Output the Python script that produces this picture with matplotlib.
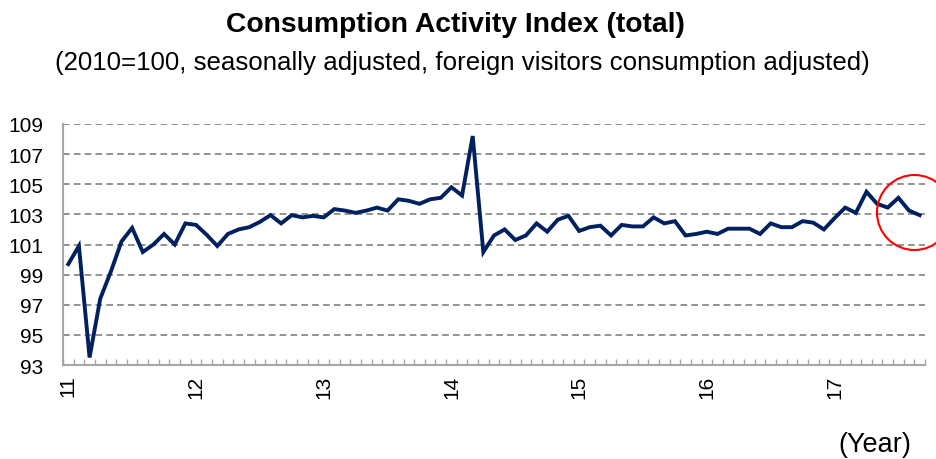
import matplotlib
matplotlib.use('Agg')
import matplotlib.pyplot as plt
import numpy as np

# Consumption Activity Index (total), monthly, Jan 2011 - Sep 2017
index_values = [
    99.7, 100.9, 93.5, 97.4, 99.2, 101.2, 102.1, 100.5, 101.0, 101.7, 101.0, 102.4,   # 2011
    102.3, 101.65, 100.9, 101.7, 102.0, 102.15, 102.5, 102.95, 102.4, 102.95, 102.8, 102.9,  # 2012
    102.8, 103.35, 103.25, 103.1, 103.25, 103.45, 103.25, 104.0, 103.9, 103.7, 104.0, 104.1,  # 2013
    104.8, 104.25, 108.2, 100.5, 101.6, 102.0, 101.3, 101.6, 102.4, 101.85, 102.65, 102.9,  # 2014
    101.9, 102.15, 102.25, 101.6, 102.3, 102.2, 102.2, 102.8, 102.4, 102.55, 101.6, 101.7,  # 2015
    101.85, 101.7, 102.05, 102.05, 102.05, 101.7, 102.4, 102.15, 102.15, 102.55, 102.45, 102.0,  # 2016
    102.75, 103.45, 103.1, 104.5, 103.7, 103.45, 104.1, 103.25, 102.95,  # 2017
]
year_labels = ['11', '12', '13', '14', '15', '16', '17']
y_ticks = [93, 95, 97, 99, 101, 103, 105, 107, 109]

plt.rcParams['font.family'] = ['Liberation Sans', 'DejaVu Sans']

fig = plt.figure(figsize=(9.37, 4.6), dpi=100)
ax = fig.add_axes([0.0672, 0.2043, 0.92, 0.524])

x = np.arange(len(index_values))
ax.plot(x, index_values, color='#002060', linewidth=2.8, solid_joinstyle='miter', zorder=3)

# highlight on the latest months
ax.plot(79.5, 103.15, marker='o', markersize=54, markerfacecolor='none',
        markeredgecolor='#ff0000', markeredgewidth=1.5, clip_on=False, zorder=4)

ax.set_xlim(-0.5, len(index_values) - 0.5)
ax.set_ylim(93, 109)
ax.set_yticks(y_ticks)
ax.set_yticklabels([str(v) for v in y_ticks], fontsize=15)
ax.tick_params(axis='y', length=0, pad=14)

# year labels at each January, small ticks between months
ax.set_xticks(np.arange(0, len(index_values), 12))
ax.set_xticklabels(year_labels, rotation=90, fontsize=15)
ax.tick_params(axis='x', which='major', length=0, pad=7)
ax.set_xticks(np.arange(-0.5, len(index_values), 1), minor=True)
ax.tick_params(axis='x', which='minor', direction='in', length=4, color='#a6a6a6', width=1)

ax.grid(axis='y', color='#808080', linestyle=(0, (4, 2.5)), linewidth=1.2)
for s in ['top', 'right']:
    ax.spines[s].set_visible(False)
for s in ['left', 'bottom']:
    ax.spines[s].set_color('#a6a6a6')
    ax.spines[s].set_linewidth(1.5)

fig.text(0.486, 0.946, 'Consumption Activity Index (total)', ha='center', va='center',
         fontsize=20.3, fontweight='bold')
fig.text(0.493, 0.864, '(2010=100, seasonally adjusted, foreign visitors consumption adjusted)',
         ha='center', va='center', fontsize=18.6)
fig.text(0.973, 0.033, '(Year)', ha='right', va='center', fontsize=19.5)

fig.savefig('out.png', dpi=100)
